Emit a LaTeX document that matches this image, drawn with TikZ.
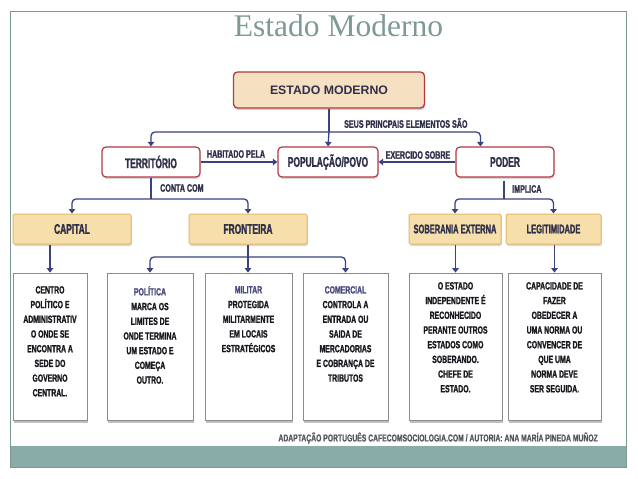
\documentclass[tikz,border=0pt]{standalone}
\usepackage{fontspec}
\setmainfont{Liberation Sans}
\newfontfamily\titlefont{Liberation Serif}
\newfontfamily\boxfont[FakeStretch=0.6, FakeBold=1.6, UprightFont={* Bold}]{Liberation Sans}
\newfontfamily\smallfont[FakeStretch=0.66, FakeBold=1.3, UprightFont={* Bold}]{Liberation Sans}
\newfontfamily\footfont[FakeStretch=0.68, FakeBold=0.8, UprightFont={* Bold}]{Liberation Sans}
\newfontfamily\mainfont[UprightFont={* Bold}]{Liberation Sans}
\usetikzlibrary{arrows.meta,shadows,calc}
\definecolor{framec}{HTML}{7D9893}
\definecolor{barc}{HTML}{8AACA8}
\definecolor{titlec}{HTML}{7E9A96}
\definecolor{redb}{HTML}{B23A40}
\definecolor{beige}{HTML}{F6E0C2}
\definecolor{goldf}{HTML}{F7DFAC}
\definecolor{goldb}{HTML}{E6B866}
\definecolor{navy}{HTML}{3A4280}
\definecolor{labc}{HTML}{30304A}
\definecolor{txtc}{HTML}{18181E}
\definecolor{polc}{HTML}{4A4A80}
\definecolor{footc}{HTML}{55555F}
\tikzset{
  mainbox/.style={draw=redb, fill=beige, line width=1.3pt, rounded corners=4pt,
    drop shadow={shadow xshift=0.6pt, shadow yshift=-2pt, opacity=0.35},
    minimum width=191pt, minimum height=36pt, inner sep=0pt,
    text=labc, font=\mainfont\fontsize{12.3}{14}\selectfont},
  elembox/.style={draw=redb, fill=white, line width=1.2pt, rounded corners=4pt,
    drop shadow={shadow xshift=0.6pt, shadow yshift=-2pt, opacity=0.3},
    minimum height=30pt, inner sep=0pt,
    text=labc, font=\boxfont\fontsize{14}{16}\selectfont},
  subbox/.style={draw=goldb, fill=goldf, line width=1pt, rounded corners=1.5pt,
    drop shadow={shadow xshift=0.8pt, shadow yshift=-2pt, opacity=0.3},
    minimum height=30pt, inner sep=0pt,
    text=labc, font=\boxfont\fontsize{14}{16}\selectfont},
  textbox/.style={draw=black!45, fill=white, line width=0.8pt,
    drop shadow={shadow xshift=1.2pt, shadow yshift=-3pt, opacity=0.5},
    minimum height=147pt, inner sep=0pt},
  bodytext/.style={anchor=north, align=center, inner sep=0pt, text=txtc,
    font=\smallfont\fontsize{10.4}{14.7}\selectfont},
  lbl/.style={inner sep=0pt, text=labc, font=\smallfont\fontsize{10.8}{12}\selectfont},
  conn/.style={draw=navy, line width=1.3pt},
  tip/.tip={Triangle[width=6.5pt,length=4.5pt]},
}
\begin{document}
\begin{tikzpicture}[x=1pt,y=-1pt]
\useasboundingbox (0,0) rectangle (638,479);
% frame
\fill[white] (0,0) rectangle (638,479);
\fill[barc] (10,446) rectangle (626,467);
\draw[framec, line width=0.9pt] (10,11) rectangle (626,467);
\node[anchor=base, inner sep=0pt, text=titlec, font=\titlefont\fontsize{31.5}{34}\selectfont] (title) at (338.5,36.7) {Estado Moderno};

% level 1
\node[mainbox] (main) at (329,90) {ESTADO MODERNO};
% level 2
\node[elembox, minimum width=98pt] (terr) at (151,162) {TERRITÓRIO};
\node[elembox, minimum width=100pt] (pop) at (328,162) {POPULAÇÃO/POVO};
\node[elembox, minimum width=98pt] (poder) at (505,162) {PODER};
% level 3
\node[subbox, minimum width=118pt] (capital) at (72,229) {CAPITAL};
\node[subbox, minimum width=118pt] (front) at (248,229) {FRONTEIRA};
\node[subbox, minimum width=92pt, font=\boxfont\fontsize{12.5}{14}\selectfont] (sober) at (455,229) {SOBERANIA EXTERNA};
\node[subbox, minimum width=95pt, font=\boxfont\fontsize{12.5}{14}\selectfont] (legit) at (553.5,229) {LEGITIMIDADE};

% bottom boxes
\node[textbox, minimum width=74pt] (b1) at (50,346.5) {};
\node[textbox, minimum width=86pt] (b2) at (150,346.5) {};
\node[textbox, minimum width=87pt] (b3) at (248.5,346.5) {};
\node[textbox, minimum width=85pt] (b4) at (345.5,346.5) {};
\node[textbox, minimum width=93pt] (b5) at (455.5,346.5) {};
\node[textbox, minimum width=93pt] (b6) at (554.5,346.5) {};

\node[bodytext] (t1) at (50,286) {CENTRO\\POLÍTICO E\\ADMINISTRATIV\\O ONDE SE\\ENCONTRA A\\SEDE DO\\GOVERNO\\CENTRAL.};
\node[bodytext] (t2) at (150,286) {\textcolor{polc}{POLÍTICA}\\MARCA OS\\LIMITES DE\\ONDE TERMINA\\UM ESTADO E\\COMEÇA\\OUTRO.};
\node[bodytext] (t3) at (248.5,286) {\textcolor{polc}{MILITAR}\\PROTEGIDA\\MILITARMENTE\\EM LOCAIS\\ESTRATÉGICOS};
\node[bodytext] (t4) at (345.5,286) {\textcolor{polc}{COMERCIAL}\\CONTROLA A\\ENTRADA OU\\SAIDA DE\\MERCADORIAS\\E COBRANÇA DE\\TRIBUTOS};
\node[bodytext] (t5) at (455.5,282) {O ESTADO\\INDEPENDENTE É\\RECONHECIDO\\PERANTE OUTROS\\ESTADOS COMO\\SOBERANDO.\\CHEFE DE\\ESTADO.};
\node[bodytext] (t6) at (554.5,282) {CAPACIDADE DE\\FAZER\\OBEDECER A\\UMA NORMA OU\\CONVENCER DE\\QUE UMA\\NORMA DEVE\\SER SEGUIDA.};

% junctions
\coordinate (jm) at (329,132);
\coordinate (jt) at (151,199);
\coordinate (jp) at (504,199);
\coordinate (jf) at (248,257);

% connectors
\draw[conn] (main.south) -- (jm);
\draw[conn, -tip, rounded corners=4pt] (jm) -| (terr.north);
\draw[conn, -tip] (jm) -- (pop.north);
\draw[conn, -tip, rounded corners=4pt] (jm) -| ([xshift=25pt]poder.north west);
\draw[conn, -tip] (terr.east) -- (pop.west);
\draw[conn, -tip] (poder.west) -- (pop.east);

\draw[conn] (terr.south) -- (jt);
\draw[conn, -tip, rounded corners=4pt] (jt) -| (capital.north);
\draw[conn, -tip, rounded corners=4pt] (jt) -| (front.north);

\draw[conn] ([yshift=-3pt]poder.south -| jp) -- (jp);
\draw[conn, -tip, rounded corners=4pt] (jp) -| (sober.north);
\draw[conn, -tip, rounded corners=4pt] (jp) -| (legit.north);

\draw[conn, -tip] (capital.south -| b1.north) -- (b1.north);
\draw[conn] (front.south) -- (jf);
\draw[conn, -tip, rounded corners=4pt] (jf) -| (b2.north);
\draw[conn, -tip] (jf) -- (b3.north -| jf);
\draw[conn, -tip, rounded corners=4pt] (jf) -| (b4.north);
\draw[conn, -tip] (sober.south -| b5.north) -- (b5.north);
\draw[conn, -tip] (legit.south -| b6.north) -- (b6.north);

% labels
\node[lbl, anchor=west] (l1) at (344,123) {SEUS PRINCPAIS ELEMENTOS SÃO};
\node[lbl] (l2) at (236,154) {HABITADO PELA};
\node[lbl] (l3) at (418,155) {EXERCIDO SOBRE};
\node[lbl, anchor=west] (l4) at (160,188) {CONTA COM};
\node[lbl, anchor=west] (l5) at (512,189) {IMPLICA};

% footer
\node[anchor=east, inner sep=0pt, text=footc, font=\footfont\fontsize{10}{11}\selectfont] (foot) at (598,438) {ADAPTAÇÃO PORTUGUÊS CAFECOMSOCIOLOGIA.COM / AUTORIA: ANA MARÍA PINEDA MUÑOZ};
\end{tikzpicture}
\end{document}
